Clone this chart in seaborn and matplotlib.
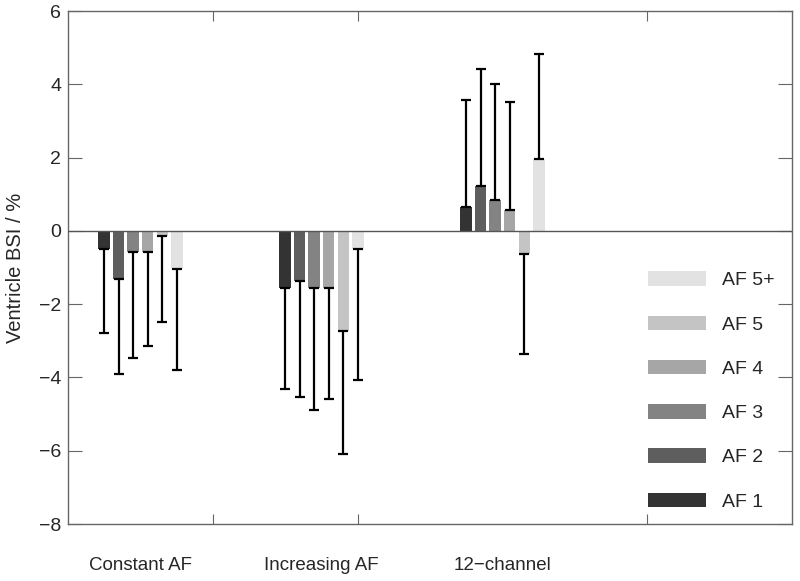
import matplotlib
matplotlib.use("Agg")
import matplotlib.pyplot as plt
from matplotlib.patches import Patch
import seaborn as sns
import pandas as pd

groups = ["Constant AF", "Increasing AF", "12\u2212channel"]
levels = ["AF 1", "AF 2", "AF 3", "AF 4", "AF 5", "AF 5+"]
colors = ["#333333", "#5e5e5e", "#838383", "#a6a6a6", "#c4c4c4", "#e2e2e2"]

# mean BSI per group and AF level
constant_af = [-0.50, -1.31, -0.57, -0.57, -0.15, -1.03]
increasing_af = [-1.56, -1.37, -1.56, -1.55, -2.73, -0.50]
twelve_channel = [0.66, 1.23, 0.84, 0.56, -0.63, 1.96]

# error bar length (drawn away from zero)
constant_af_err = [2.29, 2.59, 2.89, 2.58, 2.34, 2.77]
increasing_af_err = [2.75, 3.16, 3.34, 3.05, 3.36, 3.57]
twelve_channel_err = [2.90, 3.20, 3.17, 2.95, 2.74, 2.86]


def setup_style():
    sns.set_theme(style="white")
    plt.rcParams["font.family"] = ["Liberation Sans", "DejaVu Sans"]


def plot_bsi(save_path="out.png"):
    setup_style()
    values = [constant_af, increasing_af, twelve_channel]
    errors = [constant_af_err, increasing_af_err, twelve_channel_err]
    df = pd.DataFrame({
        "group": [g for g in groups for _ in levels],
        "level": levels * len(groups),
        "value": [v for row in values for v in row],
    })

    fig = plt.figure(figsize=(8, 5.81), dpi=100)
    ax = fig.add_axes([0.085, 0.098, 0.905, 0.883])

    sns.barplot(data=df, x="group", y="value", hue="level", order=groups,
                hue_order=levels, palette=dict(zip(levels, colors)),
                width=0.483, gap=0.21, errorbar=None, saturation=1,
                legend=False, linewidth=0, edgecolor="none", ax=ax)

    # one-sided error bars, pointing away from zero
    bar_containers = list(ax.containers)
    for i, cont in enumerate(bar_containers):
        for bar in cont:
            x = bar.get_x() + bar.get_width() / 2
            v = bar.get_height()
            g = int(round(x))
            e = errors[g][i]
            yerr = [[0], [e]] if v > 0 else [[e], [0]]
            ax.errorbar([x], [v], yerr=yerr, fmt="none", ecolor="black",
                        elinewidth=1.6, capsize=3.5, capthick=1.6, zorder=3)

    ax.axhline(0, color="#555555", linewidth=1, zorder=4)

    ax.set_xlim(-0.4, 3.6)
    ax.set_ylim(-8, 6)
    ax.set_yticks(range(-8, 7, 2))
    ax.set_xticks([0.4, 1.2, 2.0, 2.8], minor=True)
    ax.tick_params(axis="x", which="major", length=0, pad=24, labelsize=13.5)
    ax.tick_params(axis="x", which="minor", length=7, width=0.8, direction="in",
                   top=True, bottom=True, color="#666666")
    ax.tick_params(axis="y", which="major", length=10, width=0.8, direction="in",
                   left=True, right=True, pad=5, labelsize=14, color="#666666")
    ax.set_xlabel("")
    ax.set_ylabel("Ventricle BSI / %", fontsize=14.5, labelpad=10)
    for s in ax.spines.values():
        s.set_color("#666666")
        s.set_linewidth(1)

    handles = [Patch(facecolor=c, edgecolor="none") for c in colors][::-1]
    ax.legend(handles, levels[::-1], loc="lower right", frameon=False,
              bbox_to_anchor=(1.0, -0.008),
              fontsize=14, handlelength=3.0, handleheight=0.77,
              handletextpad=0.8, labelspacing=1.35, borderaxespad=0.5)

    if save_path:
        fig.savefig(save_path, dpi=100)
    plt.close(fig)


plot_bsi("out.png")
